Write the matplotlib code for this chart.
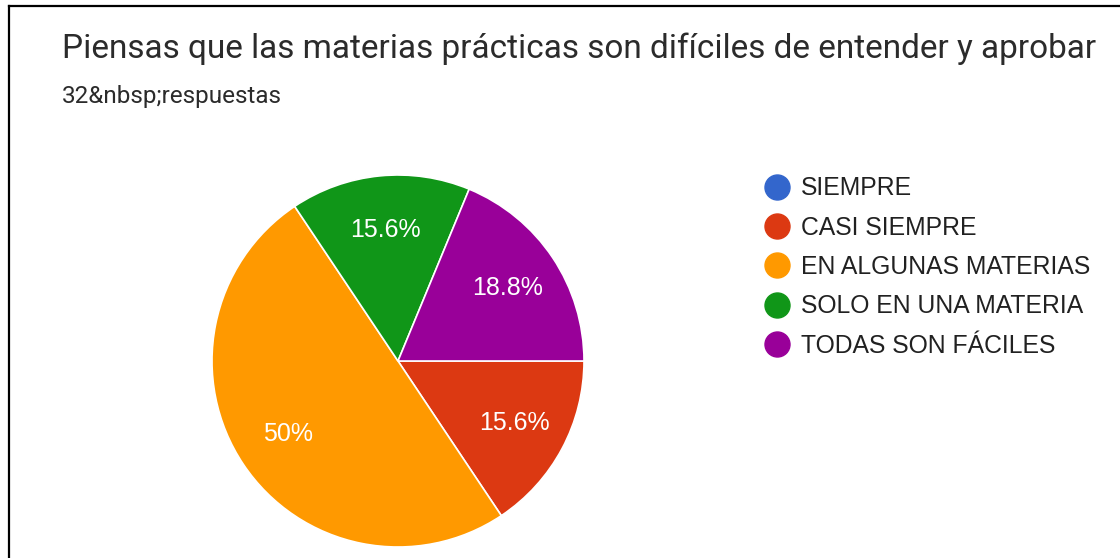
"""
Pie chart of the survey question (Google Forms style), rebuilt with matplotlib.
"""
import matplotlib
matplotlib.use("Agg")
import matplotlib.pyplot as plt
from matplotlib.lines import Line2D

# data (32 responses)
categories = ["SIEMPRE", "CASI SIEMPRE", "EN ALGUNAS MATERIAS",
              "SOLO EN UNA MATERIA", "TODAS SON FÁCILES"]
counts = [0, 5, 16, 5, 6]
colors = ["#3366CC", "#DC3912", "#FF9900", "#109618", "#990099"]
title = "Piensas que las materias prácticas son difíciles de entender y aprobar"
subtitle = "32&nbsp;respuestas"

W, H = 1120, 558
fig = plt.figure(figsize=(W / 100, H / 100), dpi=100)
fig.patch.set_facecolor("white")


def fit_width(txt, target_px):
    # scale font size so the text spans target_px
    r = fig.canvas.get_renderer()
    w = txt.get_window_extent(renderer=r).width
    txt.set_fontsize(txt.get_fontsize() * target_px / w)


# frame of the screenshot (top and left edges only)
fig.add_artist(Line2D([9 / W, 1], [1 - 6 / H, 1 - 6 / H], transform=fig.transFigure,
                      color="black", lw=1.6))
fig.add_artist(Line2D([9 / W, 9 / W], [0, 1 - 6 / H], transform=fig.transFigure,
                      color="black", lw=1.6))

t = fig.text(62 / W, 1 - 49 / H, title, fontsize=20, family="Roboto",
             color="#2b2b2b", va="center", ha="left")
fit_width(t, 1035)
s = fig.text(62 / W, 1 - 96 / H, subtitle, fontsize=13, family="Roboto",
             color="#2b2b2b", va="center", ha="left")
fit_width(s, 220)

# pie: centre (398, 361), radius 186 px
cx, cy, r = 398, 361, 186
ax = fig.add_axes([(cx - r) / W, (H - cy - r) / H, 2 * r / W, 2 * r / H])


def pct_label(p):
    if p < 0.5:
        return ""
    txt = f"{p:.1f}%"
    return txt.replace(".0%", "%")


wedges, texts, autotexts = ax.pie(
    counts, colors=colors, startangle=0, counterclock=False, radius=1,
    autopct=pct_label, pctdistance=0.71,
    wedgeprops=dict(edgecolor="white", linewidth=1.2),
    textprops=dict(color="white", fontsize=18, family="Liberation Sans"))
ax.set_xlim(-1.0, 1.0)
ax.set_ylim(-1.0, 1.0)
ax.set_aspect("equal")
ax.axis("off")

handles = [Line2D([], [], marker="o", linestyle="none", markersize=18,
                  markerfacecolor=c, markeredgecolor=c) for c in colors]
fig.legend(handles, categories, loc="center left",
           bbox_to_anchor=(765 / W, 1 - 267 / H), frameon=False,
           borderpad=0, borderaxespad=0, handlelength=1.0, handletextpad=0.45,
           labelspacing=0.62, prop=dict(family="Liberation Sans", size=17.8),
           labelcolor="#212121")

fig.savefig("out.png", dpi=100, facecolor="white")
